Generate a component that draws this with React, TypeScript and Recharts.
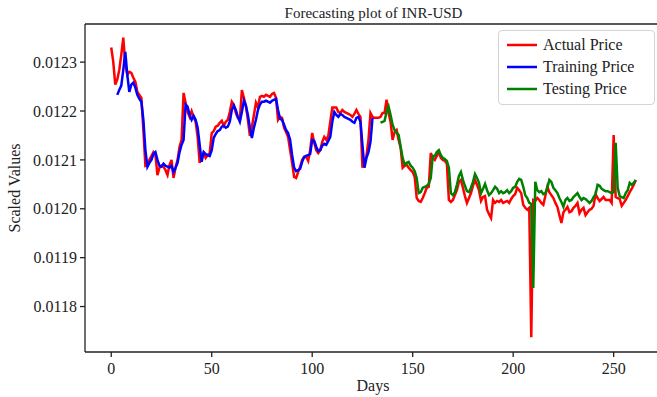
import { Line, LineChart, ReferenceLine, XAxis, YAxis } from "recharts";

// daily actual INR-USD price, day 0..261
const actualPrice = [
  0.012330, 0.012301, 0.012254, 0.012264, 0.012284, 0.012315, 0.012350, 0.012295, 0.012274, 0.012280,
  0.012278, 0.012268, 0.012260, 0.012239, 0.012233, 0.012227, 0.012161, 0.012088, 0.012090, 0.012100,
  0.012108, 0.012116, 0.012110, 0.012069, 0.012084, 0.012088, 0.012086, 0.012079, 0.012069, 0.012090,
  0.012100, 0.012063, 0.012084, 0.012100, 0.012127, 0.012141, 0.012237, 0.012217, 0.012198, 0.012188,
  0.012200, 0.012188, 0.012178, 0.012147, 0.012094, 0.012104, 0.012114, 0.012104, 0.012110, 0.012114,
  0.012155, 0.012159, 0.012168, 0.012170, 0.012176, 0.012180, 0.012170, 0.012178, 0.012182, 0.012198,
  0.012219, 0.012213, 0.012196, 0.012186, 0.012182, 0.012243, 0.012227, 0.012211, 0.012182, 0.012149,
  0.012168, 0.012192, 0.012217, 0.012207, 0.012229, 0.012231, 0.012229, 0.012233, 0.012231, 0.012229,
  0.012235, 0.012237, 0.012227, 0.012182, 0.012188, 0.012186, 0.012166, 0.012157, 0.012147, 0.012120,
  0.012094, 0.012065, 0.012063, 0.012075, 0.012086, 0.012100, 0.012106, 0.012106, 0.012098, 0.012120,
  0.012155, 0.012135, 0.012120, 0.012114, 0.012120, 0.012137, 0.012147, 0.012141, 0.012149, 0.012178,
  0.012207, 0.012207, 0.012207, 0.012198, 0.012196, 0.012202, 0.012198, 0.012196, 0.012194, 0.012192,
  0.012188, 0.012194, 0.012202, 0.012194, 0.012188, 0.012084, 0.012096, 0.012108, 0.012141, 0.012196,
  0.012188, 0.012186, 0.012186, 0.012186, 0.012188, 0.012196, 0.012196, 0.012223, 0.012196, 0.012178,
  0.012141, 0.012157, 0.012161, 0.012141, 0.012125, 0.012084, 0.012088, 0.012090, 0.012084, 0.012079,
  0.012075, 0.012065, 0.012022, 0.012016, 0.012014, 0.012022, 0.012032, 0.012043, 0.012045, 0.012114,
  0.012104, 0.012100, 0.012108, 0.012116, 0.012104, 0.012100, 0.012098, 0.012092, 0.012018, 0.012014,
  0.012018, 0.012028, 0.012038, 0.012055, 0.012059, 0.012043, 0.012026, 0.012012, 0.012022, 0.012032,
  0.012047, 0.012059, 0.012049, 0.012038, 0.012016, 0.012024, 0.012026, 0.011998, 0.011989, 0.011981,
  0.012018, 0.012012, 0.012016, 0.012014, 0.012018, 0.012012, 0.012014, 0.012016, 0.012012, 0.012020,
  0.012026, 0.012030, 0.012043, 0.012038, 0.012032, 0.012008, 0.012002, 0.011998, 0.012002, 0.011737,
  0.012018, 0.012016, 0.012022, 0.012018, 0.012012, 0.012008, 0.012026, 0.012045, 0.012034, 0.012028,
  0.012022, 0.012012, 0.012004, 0.011987, 0.011971, 0.011993, 0.011998, 0.012004, 0.011993, 0.011995,
  0.012002, 0.012006, 0.012012, 0.011991, 0.011998, 0.012002, 0.011987, 0.011993, 0.011998, 0.012000,
  0.012006, 0.012030, 0.012022, 0.012016, 0.012020, 0.012024, 0.012018, 0.012018, 0.012018, 0.012012,
  0.012151, 0.012024, 0.012022, 0.012020, 0.012006, 0.012012, 0.012018, 0.012026, 0.012034, 0.012041,
  0.012049, 0.012059,
];

// model output on the training window, day 3..130
const trainingStartDay = 3;
const trainingPrice = [
  0.012233, 0.012243, 0.012252, 0.012284, 0.012321, 0.012274, 0.012239, 0.012254, 0.012258, 0.012248,
  0.012233, 0.012225, 0.012219, 0.012182, 0.012120, 0.012086, 0.012094, 0.012100, 0.012112, 0.012116,
  0.012100, 0.012088, 0.012086, 0.012092, 0.012088, 0.012086, 0.012084, 0.012088, 0.012075, 0.012084,
  0.012094, 0.012116, 0.012131, 0.012141, 0.012213, 0.012209, 0.012192, 0.012182, 0.012190, 0.012182,
  0.012166, 0.012131, 0.012096, 0.012116, 0.012112, 0.012110, 0.012108, 0.012120, 0.012145, 0.012153,
  0.012159, 0.012161, 0.012168, 0.012170, 0.012166, 0.012168, 0.012178, 0.012202, 0.012211, 0.012202,
  0.012188, 0.012178, 0.012198, 0.012221, 0.012211, 0.012192, 0.012166, 0.012145, 0.012166, 0.012182,
  0.012202, 0.012213, 0.012219, 0.012219, 0.012221, 0.012219, 0.012217, 0.012221, 0.012223, 0.012225,
  0.012202, 0.012184, 0.012182, 0.012172, 0.012161, 0.012155, 0.012141, 0.012110, 0.012084, 0.012077,
  0.012079, 0.012082, 0.012096, 0.012106, 0.012108, 0.012110, 0.012112, 0.012141, 0.012139, 0.012127,
  0.012118, 0.012120, 0.012129, 0.012133, 0.012131, 0.012139, 0.012147, 0.012178, 0.012198, 0.012192,
  0.012188, 0.012194, 0.012192, 0.012188, 0.012186, 0.012184, 0.012182, 0.012178, 0.012176, 0.012186,
  0.012188, 0.012178, 0.012131, 0.012084, 0.012104, 0.012116, 0.012137, 0.012186,
];

// model output on the test window, day 134..261
const testingStartDay = 134;
const testingPrice = [
  0.012176, 0.012178, 0.012180, 0.012198, 0.012209, 0.012192, 0.012172, 0.012161, 0.012155, 0.012151,
  0.012127, 0.012104, 0.012090, 0.012094, 0.012096, 0.012088, 0.012084, 0.012077, 0.012063, 0.012032,
  0.012034, 0.012043, 0.012045, 0.012047, 0.012051, 0.012063, 0.012108, 0.012108, 0.012116, 0.012120,
  0.012110, 0.012104, 0.012102, 0.012098, 0.012084, 0.012032, 0.012028, 0.012034, 0.012049, 0.012067,
  0.012075, 0.012059, 0.012047, 0.012036, 0.012034, 0.012043, 0.012055, 0.012071, 0.012063, 0.012053,
  0.012032, 0.012041, 0.012051, 0.012038, 0.012028, 0.012032, 0.012038, 0.012045, 0.012041, 0.012032,
  0.012036, 0.012032, 0.012034, 0.012038, 0.012032, 0.012036, 0.012043, 0.012045, 0.012055, 0.012061,
  0.012059, 0.012045, 0.012028, 0.012022, 0.012012, 0.012010, 0.011838, 0.012055, 0.012038, 0.012034,
  0.012036, 0.012030, 0.012032, 0.012043, 0.012059, 0.012055, 0.012043, 0.012038, 0.012032, 0.012022,
  0.012014, 0.012004, 0.012018, 0.012022, 0.012016, 0.012018, 0.012024, 0.012028, 0.012032, 0.012024,
  0.012018, 0.012022, 0.012020, 0.012016, 0.012012, 0.012016, 0.012024, 0.012030, 0.012049, 0.012047,
  0.012041, 0.012038, 0.012036, 0.012036, 0.012034, 0.012032, 0.012034, 0.012135, 0.012043, 0.012026,
  0.012024, 0.012022, 0.012032, 0.012038, 0.012053, 0.012049, 0.012053, 0.012059,
];

const dayTicks = [0, 50, 100, 150, 200, 250];
const valueTicks = [0.0118, 0.0119, 0.012, 0.0121, 0.0122, 0.0123];
const seriesNames = ["Actual Price", "Training Price", "Testing Price"];
const seriesColors = ["#ff0000", "#0000ff", "#008000"];

const font = '"Liberation Serif", "DejaVu Serif", serif';
const ink = "#222";

const data = actualPrice.map((actual, day) => ({
  day,
  actual,
  training: trainingPrice[day - trainingStartDay] ?? null,
  testing: testingPrice[day - testingStartDay] ?? null,
}));

function DaysLabel() {
  return (
    <text x={373} y={391} textAnchor="middle" fontSize={16} fontFamily={font} fill={ink}>
      Days
    </text>
  );
}

function ValuesLabel() {
  return (
    <text
      transform="rotate(-90)"
      x={-188}
      y={20}
      textAnchor="middle"
      fontSize={16}
      fontFamily={font}
      fill={ink}
    >
      Scaled Values
    </text>
  );
}

export default function App() {
  return (
    <div
      style={{
        position: "absolute",
        left: 0,
        top: 0,
        width: 657,
        height: 397,
        overflow: "hidden",
        background: "#fff",
        fontFamily: font,
      }}
    >
      <div
        style={{
          position: "absolute",
          left: 0,
          top: 2,
          width: 747,
          textAlign: "center",
          fontSize: 15,
          lineHeight: "22px",
          color: ink,
        }}
      >
        Forecasting plot of INR-USD
      </div>
      <LineChart width={670} height={397} data={data} margin={{ top: 24, right: 8, bottom: 0, left: 0 }}>
        <XAxis
          type="number"
          dataKey="day"
          domain={[-13.05, 274.05]}
          ticks={dayTicks}
          allowDataOverflow
          height={45}
          tickSize={5}
          tickMargin={6}
          stroke={ink}
          strokeWidth={1.3}
          tick={{ fill: ink, fontSize: 16, fontFamily: font }}
          label={<DaysLabel />}
        />
        <YAxis
          type="number"
          domain={[0.011707, 0.012378]}
          ticks={valueTicks}
          allowDataOverflow
          width={85}
          tickSize={5}
          tickMargin={3}
          tickFormatter={(v: number) => v.toFixed(4)}
          stroke={ink}
          strokeWidth={1.3}
          tick={{ fill: ink, fontSize: 16, fontFamily: font }}
          label={<ValuesLabel />}
        />
        <ReferenceLine y={0.012378} stroke={ink} strokeWidth={1.3} />
        <Line
          type="linear"
          dataKey="actual"
          stroke={seriesColors[0]}
          strokeWidth={2.5}
          dot={false}
          isAnimationActive={false}
        />
        <Line
          type="linear"
          dataKey="training"
          stroke={seriesColors[1]}
          strokeWidth={2.5}
          dot={false}
          isAnimationActive={false}
        />
        <Line
          type="linear"
          dataKey="testing"
          stroke={seriesColors[2]}
          strokeWidth={2.5}
          dot={false}
          isAnimationActive={false}
        />
      </LineChart>
      <div
        style={{
          position: "absolute",
          left: 498,
          top: 30,
          width: 155,
          height: 70,
          paddingTop: 3,
          boxSizing: "content-box",
          border: "1px solid #d4d4d4",
          borderRadius: 4,
          background: "rgba(255,255,255,0.85)",
        }}
      >
        {seriesNames.map((name, i) => (
          <div key={name} style={{ height: 22, display: "flex", alignItems: "center" }}>
            <svg width={44} height={22} style={{ flex: "none" }}>
              <line x1={8} x2={38} y1={11} y2={11} stroke={seriesColors[i]} strokeWidth={2.5} />
            </svg>
            <span style={{ fontSize: 16, color: ink, whiteSpace: "nowrap" }}>{name}</span>
          </div>
        ))}
      </div>
    </div>
  );
}
